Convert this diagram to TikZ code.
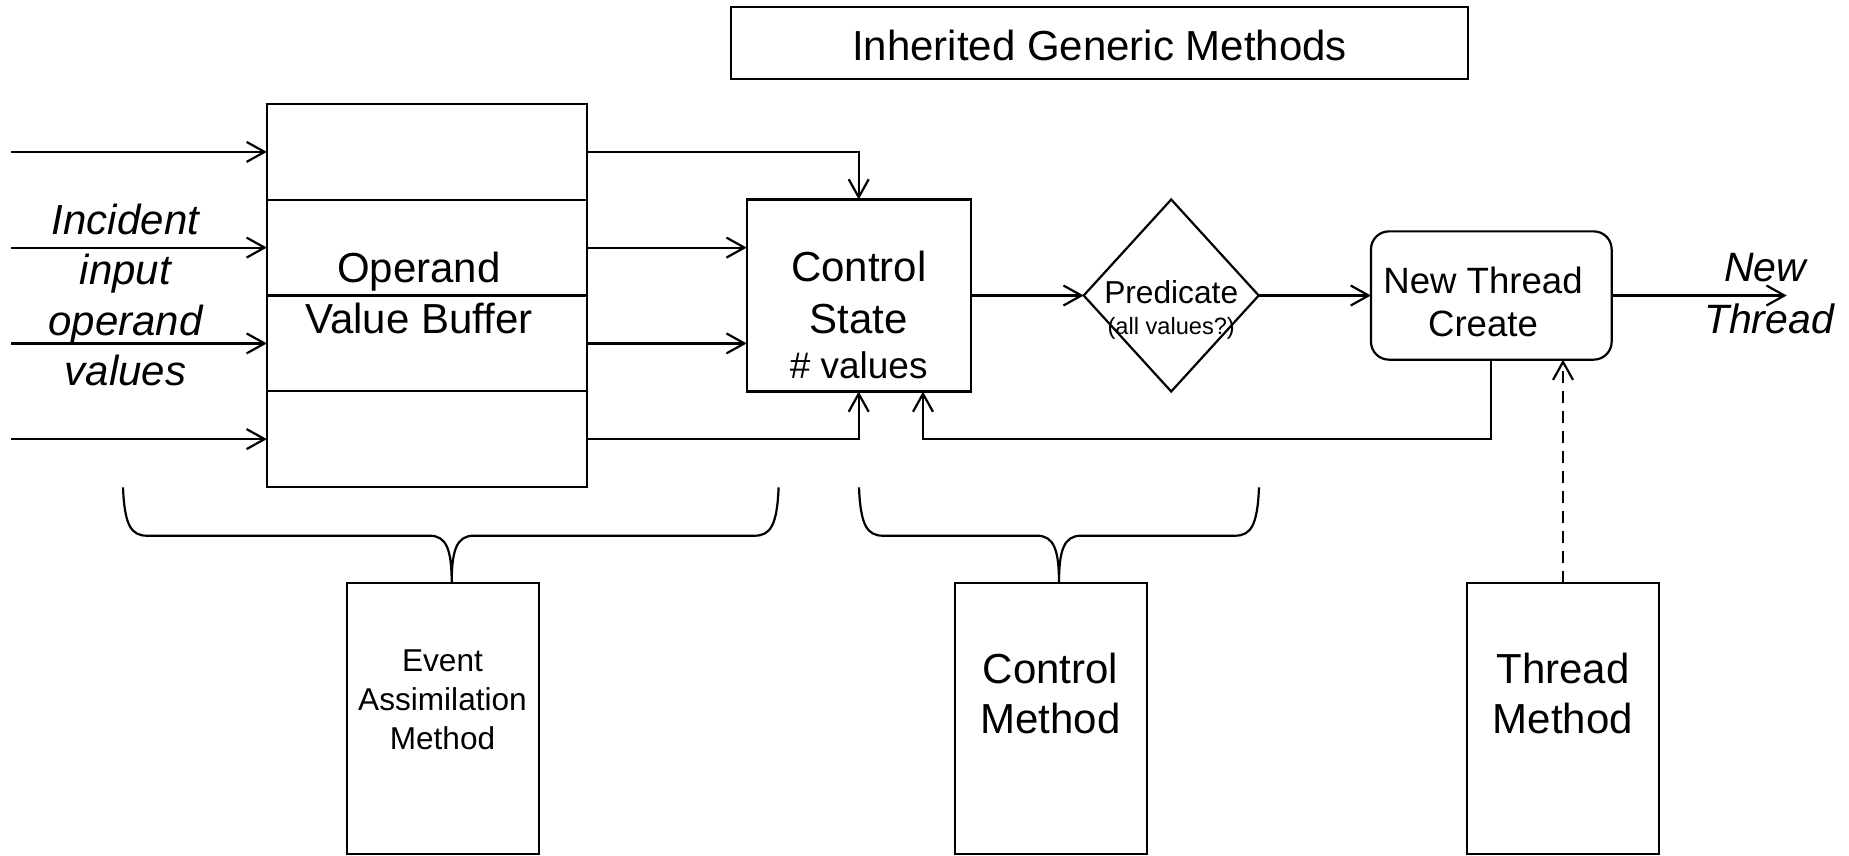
\documentclass[tikz,border=0pt]{standalone}
\usepackage{fontspec}
\setmainfont{Liberation Sans}
\usetikzlibrary{arrows.meta,shapes.geometric,calc}
\newcommand\fsz[1]{\fontsize{#1}{#1}\selectfont}
% curly brace: left end, right end, tip
\newcommand\drawbrace[3]{%
  \draw[brc] (#1,487.3) .. controls (#1+1.5,525) and (#1+8,535.7) .. (#1+24,535.7)
    -- (#3-22,535.7) .. controls (#3-5,535.7) and (#3,550) .. (#3,583.3)
    .. controls (#3,550) and (#3+5,535.7) .. (#3+22,535.7)
    -- (#2-24,535.7) .. controls (#2-8,535.7) and (#2-1.5,525) .. (#2,487.3);}
\begin{document}
\begin{tikzpicture}[x=1pt,y=-1pt,
  box/.style={draw, line width=2.2pt, inner sep=0pt, outer sep=0pt},
  arr/.style={line width=2.2pt, -{Straight Barb[length=18pt,width=20pt]}},
  brc/.style={line width=2.2pt},
  lbl/.style={anchor=base, inner sep=0pt, outer sep=0pt}]

\useasboundingbox[fill=white] (0,0) rectangle (1849,855);

% header
\node[box, minimum width=737pt, minimum height=72pt] (igm) at (1099.5,43.2) {};
\node[lbl] (igmt) at (1099.5,60) {\fsz{42}Inherited Generic Methods};

% operand value buffer, four slots with their inputs
\foreach \i/\y in {1/151.9,2/247.6,3/343.4,4/439.1}{
  \node[box, minimum width=320.3pt, minimum height=95.75pt] (r\i) at (427,\y) {};
  \coordinate (in\i) at (11,\y);
  \draw[arr] (in\i) -- (r\i.west);
}
\node[lbl] (t-op1) at (419,282.7) {\fsz{42}Operand};
\node[lbl] (t-op2) at (419,333.3) {\fsz{42}Value Buffer};

\node[lbl] (t-in1) at (125.5,234) {\fsz{42}\itshape Incident};
\node[lbl] (t-in2) at (125.5,284) {\fsz{42}\itshape input};
\node[lbl] (t-in3) at (125.5,335) {\fsz{42}\itshape operand};
\node[lbl] (t-in4) at (125.5,385) {\fsz{42}\itshape values};

% control state
\node[box, minimum width=224pt, minimum height=192pt] (ctl) at (858.7,295.5) {};
\node[lbl] (t-c1) at (858.7,281.7) {\fsz{42}Control};
\node[lbl] (t-c2) at (858.7,333.3) {\fsz{42}State};
\node[lbl] (t-c3) at (858.7,378.3) {\fsz{37}\# values};

% predicate
\node[draw, diamond, line width=2.2pt, inner sep=0pt, outer sep=0pt,
      minimum width=175pt, minimum height=192pt] (pred) at (1171.2,295.5) {};
\node[lbl] (t-p1) at (1171.2,303) {\fsz{31.7}Predicate};
\node[lbl] (t-p2) at (1171.2,334) {\fsz{23.6}(all values?)};

% new thread create
\node[box, rounded corners=18pt, minimum width=240.7pt, minimum height=128.3pt] (ntc) at (1491.3,295.5) {};
\node[lbl] (t-n1) at (1483,293.3) {\fsz{36.6}New Thread};
\node[lbl] (t-n2) at (1483,336.7) {\fsz{36.6}Create};

\coordinate (nt) at (1786.7,295.5);
\node[lbl] (t-o1) at (1765,281.7) {\fsz{41}\itshape New};
\node[lbl] (t-o2) at (1769,333.3) {\fsz{41}\itshape Thread};

% methods
\node[box, minimum width=192.3pt, minimum height=270.7pt] (em) at (442.9,718.7) {};
\node[lbl] (t-e1) at (442.5,671.7) {\fsz{31.6}Event};
\node[lbl] (t-e2) at (442.5,710.7) {\fsz{31.6}Assimilation};
\node[lbl] (t-e3) at (442.5,749.3) {\fsz{31.6}Method};

\node[box, minimum width=192pt, minimum height=270.7pt] (cm) at (1051,718.7) {};
\node[lbl] (t-m1) at (1050.5,683.3) {\fsz{42}Control};
\node[lbl] (t-m2) at (1050.5,733.3) {\fsz{42}Method};

\node[box, minimum width=192.6pt, minimum height=270.7pt] (tm) at (1563,718.7) {};
\node[lbl] (t-h1) at (1563,683.3) {\fsz{42}Thread};
\node[lbl] (t-h2) at (1563,733.3) {\fsz{42}Method};

% data flow
\draw[arr] (r1.east) -| (ctl.north);
\draw[arr] (r2.east) -- (r2.east -| ctl.west);
\draw[arr] (r3.east) -- (r3.east -| ctl.west);
\draw[arr] (r4.east) -| (ctl.south);
\draw[arr] (ctl.east) -- (pred.west);
\draw[arr] (pred.east) -- (ntc.west);
\draw[arr] (ntc.east) -- (nt);
\draw[arr] (ntc.south) |- ([xshift=64.3pt]ctl.south |- r4.east) -- ([xshift=64.3pt]ctl.south);
\draw[arr, dash pattern=on 12pt off 8pt] (tm.north) -- (tm.north |- ntc.south);

% groupings
\drawbrace{123}{778.6}{451.7}
\drawbrace{859}{1259}{1059}

\end{tikzpicture}
\end{document}
